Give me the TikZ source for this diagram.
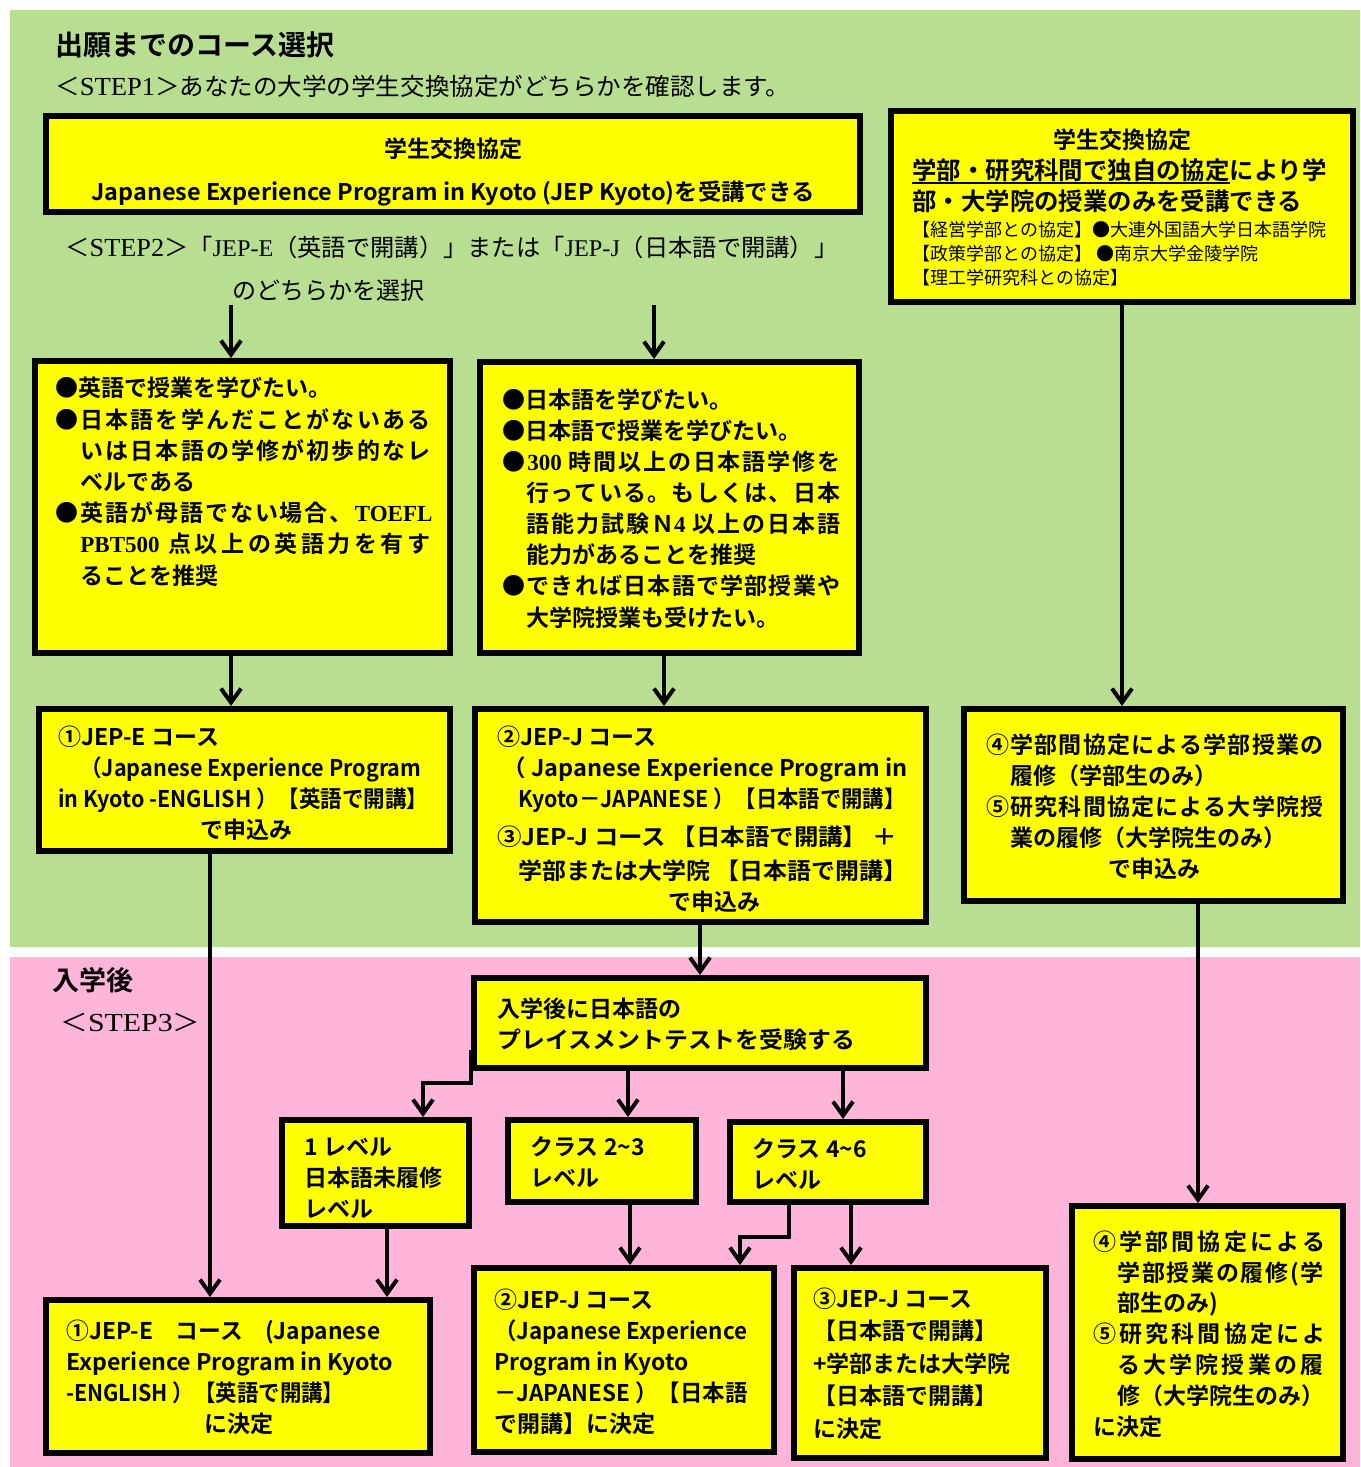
\documentclass[tikz,border=0pt]{standalone}
\usepackage{fontspec}
\usepackage{graphicx}
\setmainfont{Noto Sans CJK JP}[BoldFont={Noto Sans CJK JP Bold}]
\newfontfamily\lserif{Liberation Serif}
\usetikzlibrary{arrows.meta,calc}
\definecolor{bggreen}{RGB}{184,223,145}
\definecolor{bgpink}{RGB}{255,181,218}
\definecolor{boxyellow}{RGB}{255,255,0}
% justified line: glue between every token
\def\Jstop{\Jstop}
\newcommand\J[2]{\hbox to #1{\Jfirst#2\Jstop}}
\def\Jfirst#1{#1\Jrest}
\def\Jrest#1{\ifx\Jstop#1\else\hfil#1\expandafter\Jrest\fi}
\def\toefl{{\lserif TOEFL}}
\def\pbt{{\lserif PBT500} }
\def\tA{{\lserif 300} }
\def\nfour{Ｎ{\lserif 4} }
\newcommand\R[2]{\resizebox{#1}{\height}{#2}}
\newsavebox\ulbox
\newcommand\uln[1]{\sbox\ulbox{#1}\rlap{\rule[-2.5pt]{\wd\ulbox}{0.9pt}}\usebox\ulbox}
\tikzset{
  box/.style={draw, line width=3pt, fill=boxyellow, inner sep=0pt, anchor=center},
  txt/.style={anchor=base west, align=left, inner sep=0pt, font=\bfseries\fontsize{11.5}{15.5}\selectfont},
  ctxt/.style={anchor=base, inner sep=0pt, font=\bfseries\fontsize{11.5}{15.5}\selectfont},
  plain/.style={anchor=base west, inner sep=0pt, font=\fontsize{12}{14}\selectfont},
  arr/.style={line width=2pt, -{Straight Barb[length=7pt,width=10pt,line width=2pt]}}
}
\begin{document}
\begin{tikzpicture}[x=0.5pt,y=-0.5pt]
\useasboundingbox (0,0) rectangle (1360,1467);
\fill[bggreen] (10,10) rectangle (1360,947);
\fill[bgpink] (10,957) rectangle (1360,1467);

% headings
\node[plain, font=\bfseries\fontsize{14}{16}\selectfont] (t1) at (55,55) {出願までのコース選択};
\node[plain] (s1) at (55,95) {\R{367.5pt}{＜{\lserif\fontsize{13}{14}\selectfont STEP1}＞あなたの大学の学生交換協定がどちらかを確認します。}};
\node[plain] (s2) at (65,256) {\R{386.5pt}{＜{\lserif\fontsize{13}{14}\selectfont STEP2}＞「{\lserif JEP-E}（英語で開講）」または「{\lserif JEP-J}（日本語で開講）」}};
\node[plain] (s2b) at (232,299) {のどちらかを選択};
\node[plain, font=\bfseries\fontsize{13.5}{16}\selectfont] (p1) at (52,990) {入学後};
\node[plain] (p2) at (60,1031) {\R{70pt}{＜{\lserif\fontsize{13}{14}\selectfont STEP3}＞}};

% boxes
\node[box, minimum width=407pt, minimum height=48pt] (A) at (453,164) {};
\node[box, minimum width=231pt, minimum height=95.5pt] (B) at (1122,206.5) {};
\node[box, minimum width=207.5pt, minimum height=146pt] (C) at (242.5,507) {};
\node[box, minimum width=189.5pt, minimum height=145.5pt] (D) at (669.5,507.5) {};
\node[box, minimum width=205.5pt, minimum height=71pt] (E) at (244.5,780) {};
\node[box, minimum width=225.5pt, minimum height=106.5pt] (F) at (700.5,815.5) {};
\node[box, minimum width=189.5pt, minimum height=96pt] (G) at (1153.5,805) {};
\node[box, minimum width=226pt, minimum height=45pt] (H) at (700,1023) {};
\node[box, minimum width=93.5pt, minimum height=53pt] (I1) at (375.5,1173) {};
\node[box, minimum width=94pt, minimum height=41pt] (I2) at (602,1161) {};
\node[box, minimum width=98pt, minimum height=40pt] (I3) at (828,1162) {};
\node[box, minimum width=192pt, minimum height=76.5pt] (J) at (238,1376.5) {};
\node[box, minimum width=150pt, minimum height=92pt] (K) at (624,1360) {};
\node[box, minimum width=126pt, minimum height=95pt] (L) at (920,1363) {};
\node[box, minimum width=135.5pt, minimum height=126.5pt] (M) at (1207.5,1332.5) {};

% box texts (base = baseline of the last line)
\node[ctxt] (At1) at (453,157) {学生交換協定};
\node[ctxt] (At2) at (453,200) {\R{361.5pt}{Japanese Experience Program in Kyoto (JEP Kyoto)を受講できる}};

\node[ctxt] (Bt1) at (1122,148) {学生交換協定};
\node[txt, font=\bfseries\fontsize{12.2}{15.5}\selectfont] (Bt2) at (912,210) {\uln{学部・研究科間で独自の協定}により学\\部・大学院の授業のみを受講できる};
\node[txt, font=\fontsize{9}{12}\selectfont] (Bt3) at (912,284) {【経営学部との協定】●大連外国語大学日本語学院\\【政策学部との協定】 ●南京大学金陵学院\\【理工学研究科との協定】};

\node[txt, font=\bfseries\fontsize{11.5}{15.6}\selectfont] (Ct) at (55,584) {●英語で授業を学びたい。\\
\J{187.5pt}{●日本語を学んだことがないある}\\
\hspace*{12.5pt}\J{175pt}{いは日本語の学修が初歩的なレ}\\
\hspace*{12.5pt}ベルである\\
\J{188.5pt}{●英語が母語でない場合、\toefl}\\
\hspace*{12.5pt}\J{175pt}{\pbt 点以上の英語力を有す}\\
\hspace*{12.5pt}ることを推奨};

\node[txt, font=\bfseries\fontsize{11.5}{15.55}\selectfont] (Dt) at (502,626) {●日本語を学びたい。\\
●日本語で授業を学びたい。\\
\J{169pt}{●\tA 時間以上の日本語学修を}\\
\hspace*{12pt}\J{157pt}{行っている。もしくは、日本}\\
\hspace*{12pt}\J{157pt}{語能力試験\nfour 以上の日本語}\\
\hspace*{12pt}能力があることを推奨\\
\J{169pt}{●できれば日本語で学部授業や}\\
\hspace*{12pt}大学院授業も受けたい。};

\node[txt] (Et) at (58,838) {①JEP-E コース\\
\hspace*{11pt}\R{170.5pt}{（Japanese Experience Program}\\
\R{185pt}{in Kyoto -ENGLISH ）【英語で開講】}\\
\hspace*{71pt}で申込み};

\node[txt] (Ft) at (497,910) {②JEP-J コース\\
\hspace*{2.5pt}\R{202.5pt}{（ Japanese Experience Program in}\\
\hspace*{10.5pt}\R{193.5pt}{Kyoto－JAPANESE ）【日本語で開講】}\\[3.5pt]
\R{200pt}{③JEP-J コース 【日本語で開講】 ＋}\\[1.5pt]
\hspace*{10.5pt}\R{194.5pt}{学部または大学院 【日本語で開講】}\\
\hspace*{85.5pt}で申込み};

\node[txt] (Gt) at (986,877) {\J{168.5pt}{④学部間協定による学部授業の}\\
\hspace*{12pt}履修（学部生のみ）\\
\J{168.5pt}{⑤研究科間協定による大学院授}\\
\hspace*{12pt}業の履修（大学院生のみ）\\
\hspace*{61pt}で申込み};

\node[txt] (Ht) at (497,1048) {入学後に日本語の\\\R{179pt}{プレイスメントテストを受験する}};
\node[txt] (I1t) at (304,1217) {1 レベル\\日本語未履修\\レベル};
\node[txt] (I2t) at (530,1186) {クラス 2\textasciitilde 3\\レベル};
\node[txt] (I3t) at (752,1188) {クラス 4\textasciitilde 6\\レベル};

\node[txt] (Jt) at (66,1432) {\R{157pt}{①JEP-E　コース　(Japanese}\\
\R{163.5pt}{Experience Program in Kyoto}\\
\R{139pt}{-ENGLISH ）【英語で開講】}\\
\hspace*{69pt}に決定};

\node[txt] (Kt) at (494,1432) {②JEP-J コース\\
\R{126.5pt}{（Japanese Experience}\\
\R{97pt}{Program in Kyoto}\\
\R{126.5pt}{－JAPANESE ）【日本語}\\
で開講】に決定};

\node[txt, font=\bfseries\fontsize{11.5}{16.25}\selectfont] (Lt) at (813,1437) {③JEP-J コース\\
【日本語で開講】\\
+学部または大学院\\
【日本語で開講】\\
に決定};

\node[txt, font=\bfseries\fontsize{11.5}{15.4}\selectfont] (Mt) at (1093,1435) {\J{116pt}{④学部間協定による}\\
\hspace*{12pt}\J{103pt}{学部授業の履修(学}\\
\hspace*{12pt}部生のみ)\\
\J{116pt}{⑤研究科間協定によ}\\
\hspace*{12pt}\J{103pt}{る大学院授業の履}\\
\hspace*{12pt}\J{103pt}{修（大学院生のみ）}\\
に決定};

% helper coordinates
\coordinate (xa) at (231,305);
\coordinate (xb) at (654,305);
\coordinate (xd) at (664,0);
\coordinate (xe) at (210,0);
\coordinate (hb) at (423,1083);
\coordinate (x2) at (628,0);
\coordinate (x3) at (843,0);
\coordinate (xj) at (387,0);
\coordinate (xk) at (630,0);
\coordinate (xk1) at (789,0);
\coordinate (kb) at (740,1237);
\coordinate (xl) at (851,0);
\coordinate (xm) at (1198,0);

% connectors
\draw[arr] (xa) -- (xa |- C.north);
\draw[arr] (xb) -- (xb |- D.north);
\draw[arr] (C.south -| xa) -- (E.north -| xa);
\draw[arr] (D.south -| xd) -- (F.north -| xd);
\draw[arr] (B.south) -- (B.south |- G.north);
\draw[arr] (E.south -| xe) -- (J.north -| xe);
\draw[arr] (F.south -| H.north) -- (H.north);
\draw[arr] ($(H.south west)+(0,-21)$) |- (hb) -- (hb |- I1.north);
\draw[arr] (H.south -| x2) -- (I2.north -| x2);
\draw[arr] (H.south -| x3) -- (I3.north -| x3);
\draw[arr] (I1.south -| xj) -- (J.north -| xj);
\draw[arr] (I2.south -| xk) -- (K.north -| xk);
\draw[arr] (I3.south -| xk1) |- (kb) -- (kb |- K.north);
\draw[arr] (I3.south -| xl) -- (L.north -| xl);
\draw[arr] (G.south -| xm) -- (M.north -| xm);
\end{tikzpicture}
\end{document}
